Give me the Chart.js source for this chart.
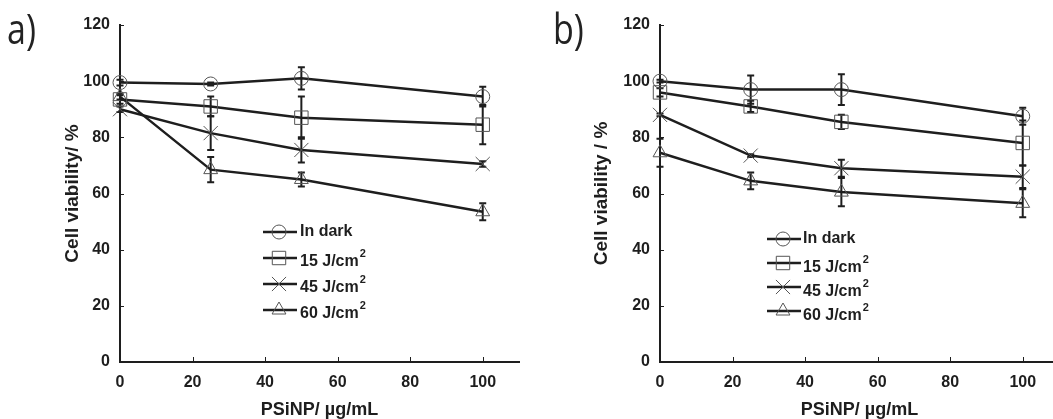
<!DOCTYPE html>
<html>
<head>
<meta charset="utf-8">
<script src="https://cdn.jsdelivr.net/npm/chart.js@4/dist/chart.umd.min.js"></script>
<style>
html, body { margin: 0; padding: 0; overflow: hidden; background: #fff; }
#wrap { position: relative; width: 1053px; height: 419px; overflow: hidden; }
.panel { position: absolute; top: 0; width: 530px; height: 419px; }
.tag { position: absolute; top: 4px; font-family: "Open Sans", sans-serif; font-size: 34px; line-height: 40px; color: #222; transform: scaleY(1.22); transform-origin: top left; }
</style>
</head>
<body>
<div id="wrap">
  <div class="panel" style="left:0"><canvas id="chartA"></canvas></div>
  <div class="panel" style="left:540px"><canvas id="chartB"></canvas></div>
  <div class="tag" style="left:7px">a)</div>
  <div class="tag" style="left:553px">b)</div>
</div>
<script>
// x values (PSiNP concentration, ug/mL)
const doses = [0, 25, 50, 100];
const seriesLabels = ['In dark', '15 J/cm²', '45 J/cm²', '60 J/cm²'];
const yTicks = [0, 20, 40, 60, 80, 100, 120];
const xTicks = [0, 20, 40, 60, 80, 100];

// panel a) values and error bars
const darkA = [99.5, 99, 101, 94.5];
const darkErrA = [1, 0.5, 4, 3.5];
const j15A = [93.5, 91, 87, 84.5];
const j15ErrA = [1.5, 3.5, 7.5, 7];
const j45A = [90, 81.5, 75.5, 70.5];
const j45ErrA = [1, 6, 4.5, 1];
const j60A = [94.5, 68.5, 65, 53.5];
const j60ErrA = [1, 4.5, 2.5, 3];

// panel b) values and error bars
const darkB = [100, 97, 97, 87.5];
const darkErrB = [0.5, 5, 5.5, 3];
const j15B = [96, 91, 85.5, 78];
const j15ErrB = [1.5, 2, 2.5, 8];
const j45B = [88, 73.5, 69, 66];
const j45ErrB = [0.5, 0.5, 3, 4];
const j60B = [74.5, 64.5, 60.5, 56.5];
const j60ErrB = [5, 3, 5, 5];

const markers = [
  { style: 'circle', r: 7 },
  { style: 'rect', r: 9.5 },
  { style: 'crossRot', r: 10 },
  { style: 'triangle', r: 8 }
];

const ink = '#1e1e1e';
const markInk = '#555';
const fontFam = '"Liberation Sans", Arial, sans-serif';

function makeDatasets(vals, errs) {
  return vals.map((v, i) => ({
    label: seriesLabels[i],
    data: doses.map((d, k) => ({ x: d, y: v[k] })),
    errors: errs[i],
    borderColor: ink,
    borderWidth: 2.5,
    pointStyle: markers[i].style,
    pointRadius: markers[i].r,
    pointBorderColor: markInk,
    pointBorderWidth: 1,
    pointBackgroundColor: 'rgba(0,0,0,0)',
    clip: false
  }));
}

// vertical error bars with caps, placed through the scales
const errorBars = {
  id: 'errorBars',
  beforeDatasetsDraw(chart) {
    const { ctx, scales: { x, y } } = chart;
    ctx.save();
    ctx.strokeStyle = ink;
    ctx.lineWidth = 2;
    chart.data.datasets.forEach(ds => {
      ds.data.forEach((p, i) => {
        const e = ds.errors[i];
        if (!e) return;
        const px = x.getPixelForValue(p.x);
        const top = y.getPixelForValue(p.y + e);
        const bot = y.getPixelForValue(p.y - e);
        ctx.beginPath();
        ctx.moveTo(px, top); ctx.lineTo(px, bot);
        ctx.moveTo(px - 3.5, top); ctx.lineTo(px + 3.5, top);
        ctx.moveTo(px - 3.5, bot); ctx.lineTo(px + 3.5, bot);
        ctx.stroke();
      });
    });
    ctx.restore();
  }
};

// small tick marks pointing into the plot
const innerTicks = {
  id: 'innerTicks',
  afterDraw(chart) {
    const { ctx, scales: { x, y }, chartArea } = chart;
    ctx.save();
    ctx.strokeStyle = ink;
    ctx.lineWidth = 1;
    ctx.beginPath();
    y.ticks.forEach(t => {
      const py = Math.round(y.getPixelForValue(t.value)) + 0.5;
      ctx.moveTo(chartArea.left, py); ctx.lineTo(chartArea.left + 4, py);
    });
    x.ticks.forEach(t => {
      const px = Math.round(x.getPixelForValue(t.value)) + 0.5;
      ctx.moveTo(px, chartArea.bottom); ctx.lineTo(px, chartArea.bottom - 5);
    });
    ctx.stroke();
    ctx.restore();
  }
};

function drawMarker(ctx, style, r, cx, cy) {
  ctx.beginPath();
  if (style === 'circle') {
    ctx.arc(cx, cy, r, 0, Math.PI * 2);
  } else if (style === 'rect') {
    const s = Math.SQRT1_2 * r;
    ctx.rect(cx - s, cy - s, 2 * s, 2 * s);
  } else if (style === 'crossRot') {
    const s = Math.SQRT1_2 * r;
    ctx.moveTo(cx - s, cy - s); ctx.lineTo(cx + s, cy + s);
    ctx.moveTo(cx - s, cy + s); ctx.lineTo(cx + s, cy - s);
  } else if (style === 'triangle') {
    const h = Math.sqrt(3) / 2 * r;
    ctx.moveTo(cx, cy - r);
    ctx.lineTo(cx + h, cy + r / 2);
    ctx.lineTo(cx - h, cy + r / 2);
    ctx.closePath();
  }
  ctx.stroke();
}

// legend inside the plot, with a raised "2" for cm²
const markLegend = {
  id: 'markLegend',
  afterDraw(chart, args, opts) {
    const { ctx } = chart;
    ctx.save();
    chart.data.datasets.forEach((ds, i) => {
      const ly = opts.y0 + i * opts.gap;
      ctx.strokeStyle = ink;
      ctx.lineWidth = 2.5;
      ctx.beginPath();
      ctx.moveTo(opts.x0, ly); ctx.lineTo(opts.x1, ly);
      ctx.stroke();
      ctx.strokeStyle = markInk;
      ctx.lineWidth = 1;
      drawMarker(ctx, markers[i].style, markers[i].r, opts.mx, ly);

      const sup = ds.label.endsWith('²');
      const base = sup ? ds.label.slice(0, -1) : ds.label;
      const ty = ly + (sup ? opts.supShift : 0);
      ctx.fillStyle = ink;
      ctx.textBaseline = 'middle';
      ctx.font = 'bold 16px ' + fontFam;
      ctx.fillText(base, opts.tx, ty);
      if (sup) {
        const w = ctx.measureText(base).width;
        ctx.font = 'bold 11px ' + fontFam;
        ctx.fillText('2', opts.tx + w + 1, ty - 8);
      }
    });
    ctx.restore();
  }
};

function makeChart(id, datasets, yTitle, yTitlePad, legendOpts) {
  return new Chart(document.getElementById(id), {
    type: 'line',
    data: { datasets: datasets },
    plugins: [errorBars, innerTicks, markLegend],
    options: {
      responsive: true,
      maintainAspectRatio: false,
      animation: false,
      events: [],
      layout: { padding: { left: 0, right: 7, top: 25, bottom: 0 } },
      plugins: {
        legend: { display: false },
        tooltip: { enabled: false },
        markLegend: legendOpts
      },
      scales: {
        x: {
          type: 'linear',
          min: 0,
          max: 110,
          afterBuildTicks: s => { s.ticks = xTicks.map(v => ({ value: v })); },
          afterFit: s => { s.height = 57; },
          grid: { display: false, drawTicks: false },
          border: { display: true, color: ink, width: 2 },
          ticks: { padding: 11, color: ink, font: { family: fontFam, size: 16, weight: 'bold' } },
          title: {
            display: true,
            text: 'PSiNP/ µg/mL',
            color: ink,
            padding: { top: 0, bottom: 0 },
            font: { family: fontFam, size: 18, weight: 'bold', lineHeight: 1 }
          }
        },
        y: {
          min: 0,
          max: 120,
          afterBuildTicks: s => { s.ticks = yTicks.map(v => ({ value: v })); },
          afterFit: s => { s.width = 120; },
          grid: { display: false, drawTicks: false },
          border: { display: true, color: ink, width: 2 },
          ticks: { padding: 10, color: ink, font: { family: fontFam, size: 16, weight: 'bold' } },
          title: {
            display: true,
            text: yTitle,
            color: ink,
            padding: { top: yTitlePad, bottom: 0 },
            font: { family: fontFam, size: 19, weight: 'bold', lineHeight: 1.2 }
          }
        }
      }
    }
  });
}

makeChart('chartA',
  makeDatasets([darkA, j15A, j45A, j60A], [darkErrA, j15ErrA, j45ErrA, j60ErrA]),
  'Cell viability/ %', 61,
  { x0: 263, x1: 297, mx: 279, tx: 300, y0: 232, gap: 26, supShift: 4 });

makeChart('chartB',
  makeDatasets([darkB, j15B, j45B, j60B], [darkErrB, j15ErrB, j45ErrB, j60ErrB]),
  'Cell viability / %', 50,
  { x0: 227, x1: 261, mx: 243, tx: 263, y0: 239, gap: 24, supShift: 5 });
</script>
</body>
</html>
